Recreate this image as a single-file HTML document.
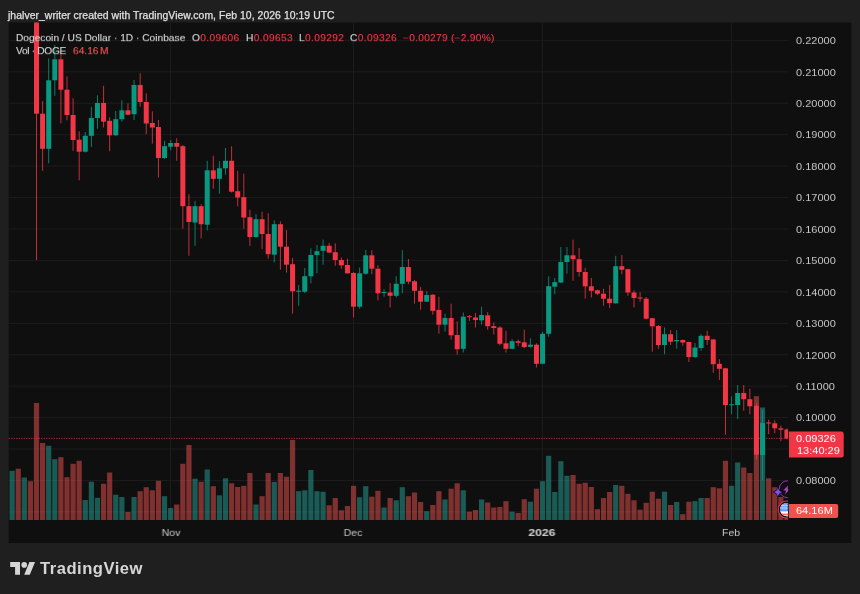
<!DOCTYPE html>
<html><head><meta charset="utf-8"><title>DOGEUSD</title>
<style>
html,body{margin:0;padding:0;}
body{width:860px;height:594px;background:#1f1f1f;position:relative;overflow:hidden;font-family:"Liberation Sans",sans-serif;}
.t{position:absolute;white-space:pre;line-height:1;will-change:transform;}
#hdr{left:8.4px;top:10.9px;font-size:10.4px;color:#e0e0e0;letter-spacing:0.06px;-webkit-text-stroke:0.25px #e0e0e0;}
#panel{position:absolute;left:8.7px;top:22.5px;width:842.5999999999999px;height:520.5px;background:#0f0f0f;}
svg#c{position:absolute;left:0;top:0;}
.g{stroke:#1d1d1d;stroke-width:1;}
.lg{font-size:10.2px;color:#d2d2d2;-webkit-text-stroke:0.15px currentColor;transform:scaleY(0.9);transform-origin:0 0;}
.lg b{font-weight:normal;color:#f23645;-webkit-text-stroke:0.15px #f23645;}
.ax{font-size:10px;color:#c8c8c8;transform:scale(1.1,0.875);transform-origin:0 0;}
.tm{font-size:10px;color:#c8c8c8;letter-spacing:0px;transform:translateX(-50%) scale(1.05,0.875);transform-origin:50% 0;}
.lbl{will-change:transform;position:absolute;color:#fff;font-size:10px;line-height:1;white-space:pre;transform:scale(1.1,0.875);transform-origin:0 0;}
</style></head><body>
<div class="t" id="hdr">jhalver_writer created with TradingView.com, Feb 10, 2026 10:19 UTC</div>
<svg id="c" width="860" height="594" viewBox="0 0 860 594">
<rect x="8.7" y="22.5" width="842.6" height="520.5" fill="#0f0f0f"/>
<defs><clipPath id="cp"><rect x="8.7" y="22.5" width="779.4" height="520.5"/></clipPath></defs>
<line x1="8.7" x2="788.1" y1="40.4" y2="40.4" class="g"/>
<line x1="8.7" x2="788.1" y1="71.83" y2="71.83" class="g"/>
<line x1="8.7" x2="788.1" y1="103.26" y2="103.26" class="g"/>
<line x1="8.7" x2="788.1" y1="134.69" y2="134.69" class="g"/>
<line x1="8.7" x2="788.1" y1="166.12" y2="166.12" class="g"/>
<line x1="8.7" x2="788.1" y1="197.55" y2="197.55" class="g"/>
<line x1="8.7" x2="788.1" y1="228.98" y2="228.98" class="g"/>
<line x1="8.7" x2="788.1" y1="260.41" y2="260.41" class="g"/>
<line x1="8.7" x2="788.1" y1="291.84" y2="291.84" class="g"/>
<line x1="8.7" x2="788.1" y1="323.27" y2="323.27" class="g"/>
<line x1="8.7" x2="788.1" y1="354.7" y2="354.7" class="g"/>
<line x1="8.7" x2="788.1" y1="386.13" y2="386.13" class="g"/>
<line x1="8.7" x2="788.1" y1="417.56" y2="417.56" class="g"/>
<line x1="8.7" x2="788.1" y1="448.99" y2="448.99" class="g"/>
<line x1="8.7" x2="788.1" y1="480.42" y2="480.42" class="g"/>
<line x1="8.7" x2="788.1" y1="511.85" y2="511.85" class="g"/>
<line x1="170.59" x2="170.59" y1="22.5" y2="520.0" class="g"/>
<line x1="353.44" x2="353.44" y1="22.5" y2="520.0" class="g"/>
<line x1="542.38" x2="542.38" y1="22.5" y2="520.0" class="g"/>
<line x1="731.33" x2="731.33" y1="22.5" y2="520.0" class="g"/>
<g opacity="0.5" clip-path="url(#cp)"><rect x="9.52" y="470.8" width="5.2" height="49.2" fill="#26a69a"/><rect x="15.62" y="468.7" width="5.2" height="51.3" fill="#ef5350"/><rect x="21.71" y="477.5" width="5.2" height="42.5" fill="#26a69a"/><rect x="27.8" y="481.2" width="5.2" height="38.8" fill="#ef5350"/><rect x="33.9" y="403" width="5.2" height="117" fill="#ef5350"/><rect x="40" y="443" width="5.2" height="77" fill="#ef5350"/><rect x="46.09" y="445.8" width="5.2" height="74.2" fill="#26a69a"/><rect x="52.19" y="459.2" width="5.2" height="60.8" fill="#26a69a"/><rect x="58.29" y="457.2" width="5.2" height="62.8" fill="#ef5350"/><rect x="64.39" y="477.2" width="5.2" height="42.8" fill="#ef5350"/><rect x="70.48" y="463.8" width="5.2" height="56.2" fill="#ef5350"/><rect x="76.58" y="460.8" width="5.2" height="59.2" fill="#ef5350"/><rect x="82.68" y="500" width="5.2" height="20" fill="#26a69a"/><rect x="88.77" y="481.7" width="5.2" height="38.3" fill="#26a69a"/><rect x="94.87" y="497.8" width="5.2" height="22.2" fill="#26a69a"/><rect x="100.97" y="483.8" width="5.2" height="36.2" fill="#ef5350"/><rect x="107.06" y="472.5" width="5.2" height="47.5" fill="#ef5350"/><rect x="113.16" y="494.7" width="5.2" height="25.3" fill="#26a69a"/><rect x="119.26" y="497" width="5.2" height="23" fill="#26a69a"/><rect x="125.36" y="512" width="5.2" height="8" fill="#ef5350"/><rect x="131.45" y="497" width="5.2" height="23" fill="#26a69a"/><rect x="137.55" y="491.2" width="5.2" height="28.8" fill="#ef5350"/><rect x="143.65" y="487.2" width="5.2" height="32.8" fill="#ef5350"/><rect x="149.74" y="490.3" width="5.2" height="29.7" fill="#ef5350"/><rect x="155.84" y="480.8" width="5.2" height="39.2" fill="#ef5350"/><rect x="161.94" y="496.2" width="5.2" height="23.8" fill="#26a69a"/><rect x="168.03" y="508" width="5.2" height="12" fill="#26a69a"/><rect x="174.13" y="504.5" width="5.2" height="15.5" fill="#ef5350"/><rect x="180.23" y="463.8" width="5.2" height="56.2" fill="#ef5350"/><rect x="186.33" y="445" width="5.2" height="75" fill="#ef5350"/><rect x="192.42" y="478.7" width="5.2" height="41.3" fill="#26a69a"/><rect x="198.52" y="481.7" width="5.2" height="38.3" fill="#ef5350"/><rect x="204.62" y="469.5" width="5.2" height="50.5" fill="#26a69a"/><rect x="210.71" y="486.2" width="5.2" height="33.8" fill="#ef5350"/><rect x="216.81" y="495.3" width="5.2" height="24.7" fill="#26a69a"/><rect x="222.91" y="478.3" width="5.2" height="41.7" fill="#26a69a"/><rect x="229" y="483.3" width="5.2" height="36.7" fill="#ef5350"/><rect x="235.1" y="487" width="5.2" height="33" fill="#ef5350"/><rect x="241.2" y="485.8" width="5.2" height="34.2" fill="#ef5350"/><rect x="247.3" y="473" width="5.2" height="47" fill="#ef5350"/><rect x="253.39" y="504.5" width="5.2" height="15.5" fill="#26a69a"/><rect x="259.49" y="496.2" width="5.2" height="23.8" fill="#ef5350"/><rect x="265.59" y="473" width="5.2" height="47" fill="#ef5350"/><rect x="271.68" y="482" width="5.2" height="38" fill="#26a69a"/><rect x="277.78" y="473" width="5.2" height="47" fill="#ef5350"/><rect x="283.88" y="476.7" width="5.2" height="43.3" fill="#ef5350"/><rect x="289.97" y="440" width="5.2" height="80" fill="#ef5350"/><rect x="296.07" y="491.2" width="5.2" height="28.8" fill="#26a69a"/><rect x="302.17" y="490.3" width="5.2" height="29.7" fill="#26a69a"/><rect x="308.26" y="470" width="5.2" height="50" fill="#26a69a"/><rect x="314.36" y="491.2" width="5.2" height="28.8" fill="#26a69a"/><rect x="320.46" y="491.7" width="5.2" height="28.3" fill="#26a69a"/><rect x="326.56" y="505.3" width="5.2" height="14.7" fill="#ef5350"/><rect x="332.65" y="498" width="5.2" height="22" fill="#ef5350"/><rect x="338.75" y="510.3" width="5.2" height="9.7" fill="#ef5350"/><rect x="344.85" y="506" width="5.2" height="14" fill="#ef5350"/><rect x="350.94" y="485.8" width="5.2" height="34.2" fill="#ef5350"/><rect x="357.04" y="497.2" width="5.2" height="22.8" fill="#26a69a"/><rect x="363.14" y="486.2" width="5.2" height="33.8" fill="#26a69a"/><rect x="369.24" y="496.7" width="5.2" height="23.3" fill="#ef5350"/><rect x="375.33" y="490.8" width="5.2" height="29.2" fill="#ef5350"/><rect x="381.43" y="507.5" width="5.2" height="12.5" fill="#26a69a"/><rect x="387.53" y="498" width="5.2" height="22" fill="#ef5350"/><rect x="393.62" y="500.3" width="5.2" height="19.7" fill="#26a69a"/><rect x="399.72" y="487.2" width="5.2" height="32.8" fill="#26a69a"/><rect x="405.82" y="496.2" width="5.2" height="23.8" fill="#ef5350"/><rect x="411.91" y="492.5" width="5.2" height="27.5" fill="#ef5350"/><rect x="418.01" y="502" width="5.2" height="18" fill="#ef5350"/><rect x="424.11" y="511.2" width="5.2" height="8.8" fill="#26a69a"/><rect x="430.2" y="505" width="5.2" height="15" fill="#ef5350"/><rect x="436.3" y="491.2" width="5.2" height="28.8" fill="#ef5350"/><rect x="442.4" y="499.5" width="5.2" height="20.5" fill="#26a69a"/><rect x="448.5" y="488.7" width="5.2" height="31.3" fill="#ef5350"/><rect x="454.59" y="483.3" width="5.2" height="36.7" fill="#ef5350"/><rect x="460.69" y="490.3" width="5.2" height="29.7" fill="#26a69a"/><rect x="466.79" y="511.7" width="5.2" height="8.3" fill="#ef5350"/><rect x="472.88" y="510" width="5.2" height="10" fill="#ef5350"/><rect x="478.98" y="499.5" width="5.2" height="20.5" fill="#26a69a"/><rect x="485.08" y="502.5" width="5.2" height="17.5" fill="#ef5350"/><rect x="491.18" y="507.5" width="5.2" height="12.5" fill="#ef5350"/><rect x="497.27" y="507" width="5.2" height="13" fill="#ef5350"/><rect x="503.37" y="501.2" width="5.2" height="18.8" fill="#ef5350"/><rect x="509.47" y="511.7" width="5.2" height="8.3" fill="#26a69a"/><rect x="515.56" y="513" width="5.2" height="7" fill="#ef5350"/><rect x="521.66" y="499.2" width="5.2" height="20.8" fill="#ef5350"/><rect x="527.76" y="501.7" width="5.2" height="18.3" fill="#26a69a"/><rect x="533.85" y="488.7" width="5.2" height="31.3" fill="#ef5350"/><rect x="539.95" y="481.2" width="5.2" height="38.8" fill="#26a69a"/><rect x="546.05" y="455.8" width="5.2" height="64.2" fill="#26a69a"/><rect x="552.14" y="492" width="5.2" height="28" fill="#26a69a"/><rect x="558.24" y="461.2" width="5.2" height="58.8" fill="#26a69a"/><rect x="564.34" y="475.8" width="5.2" height="44.2" fill="#26a69a"/><rect x="570.44" y="475" width="5.2" height="45" fill="#ef5350"/><rect x="576.53" y="483.8" width="5.2" height="36.2" fill="#ef5350"/><rect x="582.63" y="482.8" width="5.2" height="37.2" fill="#ef5350"/><rect x="588.73" y="487" width="5.2" height="33" fill="#ef5350"/><rect x="594.82" y="509.2" width="5.2" height="10.8" fill="#ef5350"/><rect x="600.92" y="498" width="5.2" height="22" fill="#ef5350"/><rect x="607.02" y="492" width="5.2" height="28" fill="#ef5350"/><rect x="613.12" y="485" width="5.2" height="35" fill="#26a69a"/><rect x="619.21" y="485.8" width="5.2" height="34.2" fill="#ef5350"/><rect x="625.31" y="493.8" width="5.2" height="26.2" fill="#ef5350"/><rect x="631.41" y="500.3" width="5.2" height="19.7" fill="#ef5350"/><rect x="637.5" y="509.7" width="5.2" height="10.3" fill="#ef5350"/><rect x="643.6" y="502.8" width="5.2" height="17.2" fill="#ef5350"/><rect x="649.7" y="491.7" width="5.2" height="28.3" fill="#ef5350"/><rect x="655.79" y="498.7" width="5.2" height="21.3" fill="#ef5350"/><rect x="661.89" y="491.7" width="5.2" height="28.3" fill="#26a69a"/><rect x="667.99" y="505" width="5.2" height="15" fill="#ef5350"/><rect x="674.09" y="502" width="5.2" height="18" fill="#26a69a"/><rect x="680.18" y="514.2" width="5.2" height="5.8" fill="#ef5350"/><rect x="686.28" y="501.7" width="5.2" height="18.3" fill="#ef5350"/><rect x="692.38" y="501.2" width="5.2" height="18.8" fill="#26a69a"/><rect x="698.47" y="498" width="5.2" height="22" fill="#26a69a"/><rect x="704.57" y="498" width="5.2" height="22" fill="#ef5350"/><rect x="710.67" y="487.2" width="5.2" height="32.8" fill="#ef5350"/><rect x="716.76" y="488.3" width="5.2" height="31.7" fill="#ef5350"/><rect x="722.86" y="460.8" width="5.2" height="59.2" fill="#ef5350"/><rect x="728.96" y="485.8" width="5.2" height="34.2" fill="#26a69a"/><rect x="735.06" y="462.5" width="5.2" height="57.5" fill="#26a69a"/><rect x="741.15" y="467.5" width="5.2" height="52.5" fill="#ef5350"/><rect x="747.25" y="473" width="5.2" height="47" fill="#ef5350"/><rect x="753.85" y="396.2" width="5.2" height="123.8" fill="#ef5350"/><rect x="759.94" y="407.5" width="5.2" height="112.5" fill="#26a69a"/><rect x="766.04" y="478.3" width="5.2" height="41.7" fill="#ef5350"/><rect x="772.14" y="487.2" width="5.2" height="32.8" fill="#ef5350"/><rect x="778.23" y="497" width="5.2" height="23" fill="#ef5350"/><rect x="784.33" y="511.5" width="5.2" height="8.5" fill="#ef5350"/></g>
<line x1="8.7" x2="788.1" y1="438.4" y2="438.4" stroke="#f23645" stroke-width="1" stroke-dasharray="1.2 1.3" opacity="0.75"/>
<g clip-path="url(#cp)"><g opacity="0.8"><rect x="36" y="18" width="1" height="242" fill="#f23645"/><rect x="42.1" y="101" width="1" height="69.8" fill="#f23645"/><rect x="48.19" y="58.3" width="1" height="105" fill="#089981"/><rect x="54.29" y="45" width="1" height="50.8" fill="#089981"/><rect x="60.39" y="53.3" width="1" height="70" fill="#f23645"/><rect x="66.48" y="76.3" width="1" height="44" fill="#f23645"/><rect x="72.58" y="98.3" width="1" height="52.5" fill="#f23645"/><rect x="78.68" y="131.3" width="1" height="49" fill="#f23645"/><rect x="84.78" y="132" width="1" height="20.5" fill="#089981"/><rect x="90.87" y="107" width="1" height="40" fill="#089981"/><rect x="96.97" y="95.3" width="1" height="33.4" fill="#089981"/><rect x="103.07" y="85.8" width="1" height="41.7" fill="#f23645"/><rect x="109.16" y="117.2" width="1" height="34.1" fill="#f23645"/><rect x="115.26" y="110.8" width="1" height="25" fill="#089981"/><rect x="121.36" y="100.3" width="1" height="21.4" fill="#089981"/><rect x="127.46" y="103.3" width="1" height="12" fill="#f23645"/><rect x="133.55" y="80" width="1" height="40" fill="#089981"/><rect x="139.65" y="73.3" width="1" height="33.4" fill="#f23645"/><rect x="145.75" y="93.3" width="1" height="40.7" fill="#f23645"/><rect x="151.84" y="111.3" width="1" height="32.4" fill="#f23645"/><rect x="157.94" y="120" width="1" height="57.5" fill="#f23645"/><rect x="164.04" y="140.8" width="1" height="18.2" fill="#089981"/><rect x="170.13" y="140" width="1" height="10.3" fill="#089981"/><rect x="176.23" y="138.3" width="1" height="22.5" fill="#f23645"/><rect x="182.33" y="145" width="1" height="83.7" fill="#f23645"/><rect x="188.43" y="194.2" width="1" height="61.6" fill="#f23645"/><rect x="194.52" y="200.8" width="1" height="45" fill="#089981"/><rect x="200.62" y="204.2" width="1" height="34.1" fill="#f23645"/><rect x="206.72" y="160.8" width="1" height="69.5" fill="#089981"/><rect x="212.81" y="155.8" width="1" height="32.9" fill="#f23645"/><rect x="218.91" y="161.2" width="1" height="32.5" fill="#089981"/><rect x="225.01" y="148" width="1" height="26.7" fill="#089981"/><rect x="231.1" y="146.3" width="1" height="46.2" fill="#f23645"/><rect x="237.2" y="170.8" width="1" height="35.5" fill="#f23645"/><rect x="243.3" y="173.7" width="1" height="55" fill="#f23645"/><rect x="249.4" y="209.7" width="1" height="36.1" fill="#f23645"/><rect x="255.49" y="214.2" width="1" height="23.6" fill="#089981"/><rect x="261.59" y="211.7" width="1" height="37.5" fill="#f23645"/><rect x="267.69" y="213.3" width="1" height="45.4" fill="#f23645"/><rect x="273.78" y="220.3" width="1" height="42.2" fill="#089981"/><rect x="279.88" y="221.3" width="1" height="48.4" fill="#f23645"/><rect x="285.98" y="230" width="1" height="42.5" fill="#f23645"/><rect x="292.07" y="258" width="1" height="55.7" fill="#f23645"/><rect x="298.17" y="285" width="1" height="20.8" fill="#089981"/><rect x="304.27" y="268" width="1" height="25" fill="#089981"/><rect x="310.37" y="248.3" width="1" height="35" fill="#089981"/><rect x="316.46" y="245" width="1" height="28.3" fill="#089981"/><rect x="322.56" y="239.5" width="1" height="25.2" fill="#089981"/><rect x="328.66" y="242.8" width="1" height="10.5" fill="#f23645"/><rect x="334.75" y="243.3" width="1" height="22.5" fill="#f23645"/><rect x="340.85" y="257.5" width="1" height="11.2" fill="#f23645"/><rect x="346.95" y="258.7" width="1" height="15" fill="#f23645"/><rect x="353.04" y="272" width="1" height="45.5" fill="#f23645"/><rect x="359.14" y="267.5" width="1" height="41.2" fill="#089981"/><rect x="365.24" y="250" width="1" height="24.7" fill="#089981"/><rect x="371.34" y="250.3" width="1" height="23.9" fill="#f23645"/><rect x="377.43" y="265.3" width="1" height="35" fill="#f23645"/><rect x="383.53" y="289.2" width="1" height="7.5" fill="#089981"/><rect x="389.63" y="283" width="1" height="24.5" fill="#f23645"/><rect x="395.72" y="276.2" width="1" height="21.3" fill="#089981"/><rect x="401.82" y="250.2" width="1" height="43.1" fill="#089981"/><rect x="407.92" y="259" width="1" height="25.2" fill="#f23645"/><rect x="414.01" y="280" width="1" height="23.7" fill="#f23645"/><rect x="420.11" y="287" width="1" height="22.7" fill="#f23645"/><rect x="426.21" y="291.3" width="1" height="10.7" fill="#089981"/><rect x="432.31" y="294.2" width="1" height="20.5" fill="#f23645"/><rect x="438.4" y="296.7" width="1" height="37" fill="#f23645"/><rect x="444.5" y="313.7" width="1" height="18" fill="#089981"/><rect x="450.6" y="303.7" width="1" height="36" fill="#f23645"/><rect x="456.69" y="321.3" width="1" height="33.4" fill="#f23645"/><rect x="462.79" y="312.5" width="1" height="40" fill="#089981"/><rect x="468.89" y="315" width="1" height="5.8" fill="#f23645"/><rect x="474.98" y="313" width="1" height="14.5" fill="#f23645"/><rect x="481.08" y="306.7" width="1" height="18" fill="#089981"/><rect x="487.18" y="312" width="1" height="17.7" fill="#f23645"/><rect x="493.28" y="322.5" width="1" height="12" fill="#f23645"/><rect x="499.37" y="326.2" width="1" height="19.1" fill="#f23645"/><rect x="505.47" y="330.8" width="1" height="21.7" fill="#f23645"/><rect x="511.57" y="339.2" width="1" height="10" fill="#089981"/><rect x="517.66" y="339.7" width="1" height="6.5" fill="#f23645"/><rect x="523.76" y="329.7" width="1" height="18.3" fill="#f23645"/><rect x="529.86" y="338.3" width="1" height="9.2" fill="#089981"/><rect x="535.95" y="343.3" width="1" height="24.2" fill="#f23645"/><rect x="542.05" y="331.7" width="1" height="32.5" fill="#089981"/><rect x="548.15" y="276.3" width="1" height="60.4" fill="#089981"/><rect x="554.25" y="278" width="1" height="16.2" fill="#089981"/><rect x="560.34" y="247" width="1" height="36" fill="#089981"/><rect x="566.44" y="247" width="1" height="26.7" fill="#089981"/><rect x="572.54" y="239.7" width="1" height="41.1" fill="#f23645"/><rect x="578.63" y="248" width="1" height="28.7" fill="#f23645"/><rect x="584.73" y="267.8" width="1" height="30.9" fill="#f23645"/><rect x="590.83" y="278" width="1" height="19.5" fill="#f23645"/><rect x="596.92" y="289.7" width="1" height="5.6" fill="#f23645"/><rect x="603.02" y="288.7" width="1" height="17.1" fill="#f23645"/><rect x="609.12" y="285" width="1" height="23" fill="#f23645"/><rect x="615.22" y="255.8" width="1" height="47.9" fill="#089981"/><rect x="621.31" y="255" width="1" height="19.2" fill="#f23645"/><rect x="627.41" y="268.7" width="1" height="27.1" fill="#f23645"/><rect x="633.51" y="290.3" width="1" height="17.2" fill="#f23645"/><rect x="639.6" y="292.2" width="1" height="9.5" fill="#f23645"/><rect x="645.7" y="297" width="1" height="22.2" fill="#f23645"/><rect x="651.8" y="318" width="1" height="33.7" fill="#f23645"/><rect x="657.89" y="325" width="1" height="23.7" fill="#f23645"/><rect x="663.99" y="327.5" width="1" height="26.7" fill="#089981"/><rect x="670.09" y="330" width="1" height="15" fill="#f23645"/><rect x="676.19" y="330" width="1" height="18.7" fill="#089981"/><rect x="682.28" y="339.5" width="1" height="6.3" fill="#f23645"/><rect x="688.38" y="341.7" width="1" height="20.3" fill="#f23645"/><rect x="694.48" y="343" width="1" height="14.8" fill="#089981"/><rect x="700.57" y="334.2" width="1" height="16.6" fill="#089981"/><rect x="706.67" y="330.8" width="1" height="14.2" fill="#f23645"/><rect x="712.77" y="338.8" width="1" height="34" fill="#f23645"/><rect x="718.86" y="359.2" width="1" height="20.8" fill="#f23645"/><rect x="724.96" y="367.8" width="1" height="66.9" fill="#f23645"/><rect x="731.06" y="396.3" width="1" height="17.9" fill="#089981"/><rect x="737.16" y="385" width="1" height="34.2" fill="#089981"/><rect x="743.25" y="385" width="1" height="25.8" fill="#f23645"/><rect x="749.35" y="388.7" width="1" height="25.5" fill="#f23645"/><rect x="755.95" y="403.3" width="1" height="56.2" fill="#f23645"/><rect x="762.04" y="410" width="1" height="70" fill="#089981"/><rect x="768.14" y="419.7" width="1" height="14.5" fill="#f23645"/><rect x="774.24" y="420.3" width="1" height="13" fill="#f23645"/><rect x="780.33" y="425.5" width="1" height="15.8" fill="#f23645"/><rect x="786.43" y="428.3" width="1" height="11.1" fill="#f23645"/></g><rect x="34" y="18" width="5" height="95.7" fill="#f23645"/><rect x="40.1" y="113.7" width="5" height="35.1" fill="#f23645"/><rect x="46.19" y="80.3" width="5" height="68.5" fill="#089981"/><rect x="52.29" y="59.3" width="5" height="21" fill="#089981"/><rect x="58.39" y="59.3" width="5" height="30.4" fill="#f23645"/><rect x="64.48" y="89.7" width="5" height="25.3" fill="#f23645"/><rect x="70.58" y="115" width="5" height="25" fill="#f23645"/><rect x="76.68" y="139.7" width="5" height="12" fill="#f23645"/><rect x="82.78" y="135.8" width="5" height="15.9" fill="#089981"/><rect x="88.87" y="118" width="5" height="17.8" fill="#089981"/><rect x="94.97" y="103" width="5" height="15" fill="#089981"/><rect x="101.07" y="103" width="5" height="18.7" fill="#f23645"/><rect x="107.16" y="120.8" width="5" height="14.5" fill="#f23645"/><rect x="113.26" y="119.2" width="5" height="16.1" fill="#089981"/><rect x="119.36" y="110.3" width="5" height="8.9" fill="#089981"/><rect x="125.46" y="110.3" width="5" height="4.4" fill="#f23645"/><rect x="131.55" y="85" width="5" height="29.2" fill="#089981"/><rect x="137.65" y="85" width="5" height="17" fill="#f23645"/><rect x="143.75" y="102" width="5" height="21.5" fill="#f23645"/><rect x="149.84" y="123" width="5" height="4.5" fill="#f23645"/><rect x="155.94" y="127" width="5" height="31" fill="#f23645"/><rect x="162.04" y="146.2" width="5" height="11.8" fill="#089981"/><rect x="168.13" y="143" width="5" height="3.7" fill="#089981"/><rect x="174.23" y="143" width="5" height="3.7" fill="#f23645"/><rect x="180.33" y="146.2" width="5" height="60" fill="#f23645"/><rect x="186.43" y="206.2" width="5" height="15.8" fill="#f23645"/><rect x="192.52" y="206.2" width="5" height="16.3" fill="#089981"/><rect x="198.62" y="206.2" width="5" height="18" fill="#f23645"/><rect x="204.72" y="170.3" width="5" height="54.4" fill="#089981"/><rect x="210.81" y="170.3" width="5" height="8.5" fill="#f23645"/><rect x="216.91" y="168.3" width="5" height="10.5" fill="#089981"/><rect x="223.01" y="160.8" width="5" height="7.5" fill="#089981"/><rect x="229.1" y="160.8" width="5" height="30.9" fill="#f23645"/><rect x="235.2" y="191.2" width="5" height="6.3" fill="#f23645"/><rect x="241.3" y="197.2" width="5" height="20.3" fill="#f23645"/><rect x="247.4" y="217.2" width="5" height="19.8" fill="#f23645"/><rect x="253.49" y="219.2" width="5" height="17.8" fill="#089981"/><rect x="259.59" y="219.2" width="5" height="14.8" fill="#f23645"/><rect x="265.69" y="234" width="5" height="20.2" fill="#f23645"/><rect x="271.78" y="224.2" width="5" height="30.5" fill="#089981"/><rect x="277.88" y="224.2" width="5" height="22.5" fill="#f23645"/><rect x="283.98" y="246.7" width="5" height="18" fill="#f23645"/><rect x="290.07" y="264.2" width="5" height="27.1" fill="#f23645"/><rect x="296.17" y="290.7" width="5" height="1" fill="#089981"/><rect x="302.27" y="276.2" width="5" height="15.5" fill="#089981"/><rect x="308.37" y="255" width="5" height="21.3" fill="#089981"/><rect x="314.46" y="251.2" width="5" height="3.8" fill="#089981"/><rect x="320.56" y="245.8" width="5" height="5" fill="#089981"/><rect x="326.66" y="245.8" width="5" height="6.7" fill="#f23645"/><rect x="332.75" y="252.2" width="5" height="7.8" fill="#f23645"/><rect x="338.85" y="260" width="5" height="5.3" fill="#f23645"/><rect x="344.95" y="265" width="5" height="8.3" fill="#f23645"/><rect x="351.04" y="273" width="5" height="33.7" fill="#f23645"/><rect x="357.14" y="273.3" width="5" height="33.4" fill="#089981"/><rect x="363.24" y="255.3" width="5" height="18.4" fill="#089981"/><rect x="369.34" y="255.3" width="5" height="13.4" fill="#f23645"/><rect x="375.43" y="268.7" width="5" height="24.6" fill="#f23645"/><rect x="381.53" y="292" width="5" height="1" fill="#089981"/><rect x="387.63" y="292.5" width="5" height="3.3" fill="#f23645"/><rect x="393.72" y="283.8" width="5" height="12" fill="#089981"/><rect x="399.82" y="267" width="5" height="16.8" fill="#089981"/><rect x="405.92" y="267" width="5" height="14.7" fill="#f23645"/><rect x="412.01" y="281.3" width="5" height="9.5" fill="#f23645"/><rect x="418.11" y="290.8" width="5" height="10.9" fill="#f23645"/><rect x="424.21" y="295" width="5" height="6.7" fill="#089981"/><rect x="430.31" y="294.7" width="5" height="16.1" fill="#f23645"/><rect x="436.4" y="310" width="5" height="14.7" fill="#f23645"/><rect x="442.5" y="318" width="5" height="6.7" fill="#089981"/><rect x="448.6" y="318" width="5" height="17.3" fill="#f23645"/><rect x="454.69" y="335" width="5" height="14.2" fill="#f23645"/><rect x="460.79" y="316.7" width="5" height="32.1" fill="#089981"/><rect x="466.89" y="316.2" width="5" height="1" fill="#f23645"/><rect x="472.98" y="317.5" width="5" height="2.5" fill="#f23645"/><rect x="479.08" y="315" width="5" height="5.3" fill="#089981"/><rect x="485.18" y="315.3" width="5" height="10.9" fill="#f23645"/><rect x="491.28" y="326.2" width="5" height="1.8" fill="#f23645"/><rect x="497.37" y="327.5" width="5" height="16.3" fill="#f23645"/><rect x="503.47" y="343.3" width="5" height="5.5" fill="#f23645"/><rect x="509.57" y="341.2" width="5" height="7.6" fill="#089981"/><rect x="515.66" y="341.2" width="5" height="1.6" fill="#f23645"/><rect x="521.76" y="342.3" width="5" height="4.7" fill="#f23645"/><rect x="527.86" y="344.7" width="5" height="2.1" fill="#089981"/><rect x="533.95" y="344.7" width="5" height="19.1" fill="#f23645"/><rect x="540.05" y="333.8" width="5" height="30" fill="#089981"/><rect x="546.15" y="286.2" width="5" height="47.6" fill="#089981"/><rect x="552.25" y="282.2" width="5" height="4.5" fill="#089981"/><rect x="558.34" y="262" width="5" height="20.5" fill="#089981"/><rect x="564.44" y="255.3" width="5" height="6.7" fill="#089981"/><rect x="570.54" y="255.3" width="5" height="3.9" fill="#f23645"/><rect x="576.63" y="259.2" width="5" height="12.8" fill="#f23645"/><rect x="582.73" y="272" width="5" height="14.3" fill="#f23645"/><rect x="588.83" y="286.3" width="5" height="4.5" fill="#f23645"/><rect x="594.92" y="290.3" width="5" height="3.4" fill="#f23645"/><rect x="601.02" y="293.7" width="5" height="5" fill="#f23645"/><rect x="607.12" y="298.7" width="5" height="4.3" fill="#f23645"/><rect x="613.22" y="266.2" width="5" height="37.1" fill="#089981"/><rect x="619.31" y="266.2" width="5" height="3.5" fill="#f23645"/><rect x="625.41" y="269.2" width="5" height="23.3" fill="#f23645"/><rect x="631.51" y="292.5" width="5" height="5.5" fill="#f23645"/><rect x="637.6" y="297.5" width="5" height="1" fill="#f23645"/><rect x="643.7" y="298.7" width="5" height="20" fill="#f23645"/><rect x="649.8" y="318.2" width="5" height="8.1" fill="#f23645"/><rect x="655.89" y="326" width="5" height="19" fill="#f23645"/><rect x="661.99" y="334.2" width="5" height="10.8" fill="#089981"/><rect x="668.09" y="334.2" width="5" height="7.5" fill="#f23645"/><rect x="674.19" y="340" width="5" height="1.3" fill="#089981"/><rect x="680.28" y="340" width="5" height="2.5" fill="#f23645"/><rect x="686.38" y="342" width="5" height="15" fill="#f23645"/><rect x="692.48" y="347.5" width="5" height="9.5" fill="#089981"/><rect x="698.57" y="335.8" width="5" height="12.2" fill="#089981"/><rect x="704.67" y="335.8" width="5" height="4.2" fill="#f23645"/><rect x="710.77" y="339.5" width="5" height="24.7" fill="#f23645"/><rect x="716.86" y="363.8" width="5" height="5" fill="#f23645"/><rect x="722.96" y="368.3" width="5" height="36.7" fill="#f23645"/><rect x="729.06" y="404.3" width="5" height="1" fill="#089981"/><rect x="735.16" y="393" width="5" height="12" fill="#089981"/><rect x="741.25" y="393" width="5" height="6.2" fill="#f23645"/><rect x="747.35" y="399.2" width="5" height="7.1" fill="#f23645"/><rect x="753.95" y="405.8" width="5" height="48.9" fill="#f23645"/><rect x="760.04" y="423" width="5" height="32" fill="#089981"/><rect x="766.14" y="422.5" width="5" height="1" fill="#f23645"/><rect x="772.24" y="423.3" width="5" height="5" fill="#f23645"/><rect x="778.33" y="428.3" width="5" height="1.4" fill="#f23645"/><rect x="784.43" y="429.5" width="5" height="9" fill="#f23645"/></g>
<!-- icons -->
<g clip-path="url(#cp)">
 <circle cx="787.6" cy="489.2" r="8.45" fill="#110f13" stroke="#a236b8" stroke-width="0.95"/>
 <path d="M788.6 485 L783.2 490.4 L786.3 490.4 L784.7 494.4 L790.6 488.6 L787.3 488.6 Z" fill="#ab47bc"/>
 <path d="M777.9 487.4 Q778.6 491.4 782.6 492.1 Q778.6 492.8 777.9 496.8 Q777.2 492.8 773.2 492.1 Q777.2 491.4 777.9 487.4 Z" fill="#7c4dff" stroke="#0f0f0f" stroke-width="1.2" paint-order="stroke"/>
 <circle cx="786.65" cy="509.55" r="8.45" fill="#0f0f0f" stroke="#f23645" stroke-width="1.05"/>
 <clipPath id="fl"><circle cx="786.65" cy="509.6" r="6.7"/></clipPath>
 <g clip-path="url(#fl)">
  <rect x="779" y="502" width="16" height="16" fill="#ffffff"/>
  <rect x="779" y="502" width="16" height="9.3" fill="#3d86f7"/>
  <rect x="779" y="513.6" width="16" height="1.9" fill="#f45b68"/>
  <rect x="779" y="515.5" width="16" height="2" fill="#ffe3e3"/>
  <g fill="#d6e6ff" opacity="0.9"><rect x="781.6" y="503.5" width="0.9" height="7"/><rect x="783.6" y="503.5" width="0.9" height="7"/><rect x="785.6" y="503.5" width="0.9" height="7"/><rect x="780" y="505.2" width="9" height="0.7"/><rect x="780" y="507.6" width="9" height="0.7"/></g>
 </g>
</g>
<!-- labels -->
<path d="M789 431.6 H841.5 Q843.7 431.6 843.7 433.8 V455.2 Q843.7 457.4 841.5 457.4 H789 Z" fill="#f23645"/>
<path d="M789 504 H836.2 Q838.2 504 838.2 506 V516 Q838.2 518 836.2 518 H789 Z" fill="#ef5350"/>
<!-- logo -->
<g transform="translate(10.2,559.3) scale(0.7)" fill="#d6d6d6">
 <path d="M14 22H7V11H0V4h14v18zM28 22h-8l7.5-18h8L28 22z"/><circle cx="20" cy="8" r="4"/>
</g>
</svg>
<div class="t lg" id="l1" style="left:15.6px;top:34px;"><span id="l1a" style="letter-spacing:0px">Dogecoin / US Dollar · 1D · Coinbase</span></div>
<div class="t lg" id="o" style="letter-spacing:0.36px;left:192px;top:34px;">O<b>0.09606</b></div>
<div class="t lg" id="h" style="letter-spacing:0.36px;left:245.6px;top:34px;">H<b>0.09653</b></div>
<div class="t lg" id="l" style="letter-spacing:0.36px;left:298.6px;top:34px;">L<b>0.09292</b></div>
<div class="t lg" id="cc" style="letter-spacing:0.36px;left:349.8px;top:34px;">C<b>0.09326</b></div>
<div class="t lg" id="chg" style="left:403px;top:34px;letter-spacing:0.26px"><b>−0.00279 (−2.90%)</b></div>
<div class="t lg" id="l2" style="left:15.6px;top:47.3px;letter-spacing:-0.32px">Vol · DOGE</div>
<div class="t lg" id="l2v" style="left:73px;top:47.3px;word-spacing:-1.4px;color:#ef5350">64.16 M</div>
<div class="t ax" style="left:796px;top:37.2px;">0.22000</div>
<div class="t ax" style="left:796px;top:68.63px;">0.21000</div>
<div class="t ax" style="left:796px;top:100.06px;">0.20000</div>
<div class="t ax" style="left:796px;top:131.49px;">0.19000</div>
<div class="t ax" style="left:796px;top:162.92px;">0.18000</div>
<div class="t ax" style="left:796px;top:194.35px;">0.17000</div>
<div class="t ax" style="left:796px;top:225.78px;">0.16000</div>
<div class="t ax" style="left:796px;top:257.21px;">0.15000</div>
<div class="t ax" style="left:796px;top:288.64px;">0.14000</div>
<div class="t ax" style="left:796px;top:320.07px;">0.13000</div>
<div class="t ax" style="left:796px;top:351.5px;">0.12000</div>
<div class="t ax" style="left:796px;top:382.93px;">0.11000</div>
<div class="t ax" style="left:796px;top:414.36px;">0.10000</div>
<div class="t ax" style="left:796px;top:477.22px;">0.08000</div>
<div class="t tm" style="left:170.59px;top:529.4px;">Nov</div>
<div class="t tm" style="left:353.44px;top:529.4px;">Dec</div>
<div class="t tm" style="left:542.38px;top:529.4px;font-weight:bold;color:#d6d6d6;transform:translateX(-50%) scale(1.22,0.875);">2026</div>
<div class="t tm" style="left:731.33px;top:529.4px;">Feb</div>
<div class="lbl" id="pl1" style="left:796px;top:435px;">0.09326</div>
<div class="lbl" id="pl2" style="left:797px;top:447px;">13:40:29</div>
<div class="lbl" id="vl" style="word-spacing:-2.5px;left:796px;top:507.3px;">64.16 M</div>
<div class="t" id="tv" style="left:39.9px;top:560.8px;font-size:16.6px;font-weight:bold;color:#d6d6d6;letter-spacing:0.5px;">TradingView</div>
</body></html>
